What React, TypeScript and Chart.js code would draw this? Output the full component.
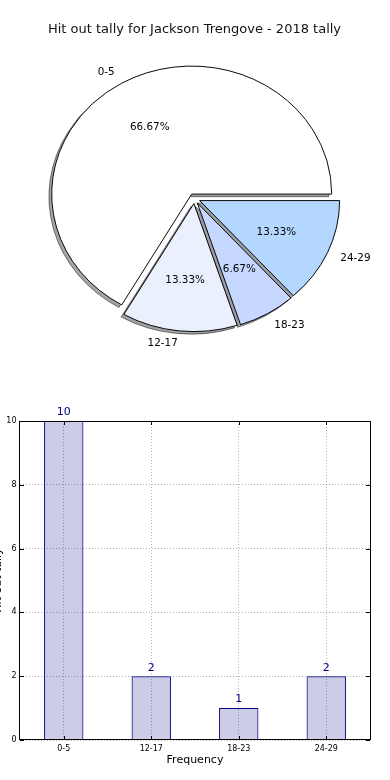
import React, { useEffect, useRef } from 'react';
import { Chart, registerables } from 'chart.js';

Chart.register(...registerables);

const TITLE = 'Hit out tally for Jackson Trengove - 2018 tally';
const categories = ['0-5', '12-17', '18-23', '24-29'];
const tallies = [10, 2, 1, 2];
const pieColors = ['#ffffff', '#eaf0fe', '#c6d8ff', '#b3d7ff'];
const X_TITLE = 'Frequency';
const Y_TITLE = 'Hit out tally';
const Y_MIN = 0;
const Y_MAX = 10;
const Y_STEP = 2;

const FONT = "'DejaVu Sans', sans-serif";
const EXPLODE = 0.04;
const SHADOW = 0.02;
const Y_SCALE = 128 / 140;
const NAVY = '#000080';
const GRID = 'rgba(0,0,0,0.3)';

// pie is drawn counter-clockwise from 3 o'clock (like matplotlib) -> reverse for Chart.js clockwise
const pieLabels = [...categories].reverse();
const pieValues = [...tallies].reverse();
const pieCols = [...pieColors].reverse();

const piePlugin = {
  id: 'mplPie',
  beforeDatasetsDraw(chart: any) {
    const ctx = chart.ctx as CanvasRenderingContext2D;
    const arcs = chart.getDatasetMeta(0).data as any[];
    if (!arcs.length) return false;
    const cy = arcs[0].y;
    const R = arcs[0].outerRadius;
    ctx.save();
    ctx.translate(0, cy);
    ctx.scale(1, Y_SCALE);
    ctx.translate(0, -cy);
    arcs.forEach((arc) => {
      const mid = (arc.startAngle + arc.endAngle) / 2;
      ctx.save();
      ctx.translate(EXPLODE * R * Math.cos(mid) - SHADOW * R, EXPLODE * R * Math.sin(mid) + SHADOW * R);
      ctx.globalAlpha = 0.5;
      (ctx as any).filter = 'brightness(0.3)';
      arc.draw(ctx);
      ctx.restore();
    });
    arcs.forEach((arc) => {
      const mid = (arc.startAngle + arc.endAngle) / 2;
      ctx.save();
      ctx.translate(EXPLODE * R * Math.cos(mid), EXPLODE * R * Math.sin(mid));
      arc.draw(ctx);
      ctx.restore();
    });
    ctx.restore();
    return false;
  },
  afterDraw(chart: any) {
    const ctx = chart.ctx as CanvasRenderingContext2D;
    const arcs = chart.getDatasetMeta(0).data as any[];
    const vals = chart.data.datasets[0].data as number[];
    const labels = chart.data.labels as string[];
    const total = vals.reduce((a, b) => a + b, 0);
    ctx.save();
    ctx.font = `10.4px ${FONT}`;
    ctx.fillStyle = '#000';
    ctx.textBaseline = 'middle';
    arcs.forEach((arc, i) => {
      const R = arc.outerRadius;
      const mid = (arc.startAngle + arc.endAngle) / 2;
      const c = Math.cos(mid);
      const s = Math.sin(mid);
      const ex = arc.x + EXPLODE * R * c;
      const ey = arc.y + EXPLODE * R * s * Y_SCALE;
      ctx.textAlign = c > 0 ? 'left' : 'right';
      ctx.fillText(labels[i], ex + 1.1 * R * c, ey + 1.1 * R * s * Y_SCALE);
      ctx.textAlign = 'center';
      const pct = ((vals[i] / total) * 100).toFixed(2) + '%';
      ctx.fillText(pct, ex + 0.6 * R * c, ey + 0.6 * R * s * Y_SCALE);
    });
    ctx.restore();
  },
};

const barPlugin = {
  id: 'mplBar',
  afterDraw(chart: any) {
    const ctx = chart.ctx as CanvasRenderingContext2D;
    const { left, right, top, bottom } = chart.chartArea;
    const xs = chart.scales.x;
    const ys = chart.scales.y;
    ctx.save();
    ctx.strokeStyle = '#000';
    ctx.lineWidth = 1;
    // inward ticks
    ctx.beginPath();
    ys.ticks.forEach((t: any) => {
      const py = Math.round(ys.getPixelForValue(t.value)) + 0.5;
      ctx.moveTo(left, py);
      ctx.lineTo(left + 4, py);
      ctx.moveTo(right, py);
      ctx.lineTo(right - 4, py);
    });
    categories.forEach((_, i) => {
      const px = Math.round(xs.getPixelForValue(i)) + 0.5;
      ctx.moveTo(px, bottom);
      ctx.lineTo(px, bottom - 4);
      ctx.moveTo(px, top);
      ctx.lineTo(px, top + 4);
    });
    ctx.stroke();
    // frame
    ctx.strokeRect(Math.round(left) - 0.5, Math.round(top) + 0.5, Math.round(right - left) + 1, Math.round(bottom - top) - 1);
    // value labels
    const bars = chart.getDatasetMeta(0).data as any[];
    const vals = chart.data.datasets[0].data as number[];
    ctx.fillStyle = NAVY;
    ctx.font = `11px ${FONT}`;
    ctx.textAlign = 'center';
    ctx.textBaseline = 'middle';
    bars.forEach((b, i) => {
      ctx.fillText(String(vals[i]), b.x, b.y - 8.5);
    });
    ctx.restore();
  },
};

export default function App() {
  const pieRef = useRef<HTMLCanvasElement>(null);
  const barRef = useRef<HTMLCanvasElement>(null);

  useEffect(() => {
    Chart.defaults.font.family = FONT;
    Chart.defaults.color = '#000';
    const pie = new Chart(pieRef.current as HTMLCanvasElement, {
      type: 'pie',
      data: {
        labels: pieLabels,
        datasets: [
          {
            data: pieValues,
            backgroundColor: pieCols,
            borderColor: '#000',
            borderWidth: 1,
            borderJoinStyle: 'miter',
          } as any,
        ],
      },
      options: {
        responsive: false,
        animation: false,
        events: [],
        rotation: 90,
        radius: 140,
        layout: { padding: { left: 0, right: 1, top: 0, bottom: 30.6 } },
        plugins: {
          legend: { display: false },
          tooltip: { enabled: false },
          title: {
            display: true,
            text: TITLE,
            color: '#111',
            font: { family: FONT, size: 13, weight: 'normal' },
            padding: { top: 22, bottom: 0 },
          },
        },
      } as any,
      plugins: [piePlugin as any],
    });

    const bar = new Chart(barRef.current as HTMLCanvasElement, {
      type: 'bar',
      data: {
        labels: categories,
        datasets: [
          {
            data: tallies,
            backgroundColor: 'rgba(0,0,128,0.2)',
            borderColor: NAVY,
            borderWidth: 1,
            categoryPercentage: 1,
            barPercentage: 0.45,
          },
        ],
      },
      options: {
        responsive: false,
        animation: false,
        events: [],
        layout: { padding: { left: 0, right: 20, top: 31, bottom: 0 } },
        plugins: { legend: { display: false }, tooltip: { enabled: false } },
        scales: {
          x: {
            offset: true,
            grid: { offset: false, drawTicks: false, color: GRID, lineWidth: 1 },
            border: { display: false, dash: [1, 2] },
            ticks: { font: { size: 8 }, color: '#000', padding: 4, maxRotation: 0, autoSkip: false },
            title: { display: true, text: X_TITLE, color: '#000', font: { size: 11 }, padding: { top: 0, bottom: 13.4 } },
            afterFit: (s: any) => {
              s.height = 40;
            },
          },
          y: {
            min: Y_MIN,
            max: Y_MAX,
            grid: { drawTicks: false, color: GRID, lineWidth: 1 },
            border: { display: false, dash: [1, 2] },
            ticks: { stepSize: Y_STEP, font: { size: 8 }, color: '#000', padding: 3.5 },
            title: { display: true, text: Y_TITLE, color: '#000', font: { size: 11 }, padding: { top: 1.4, bottom: 0 } },
            afterFit: (s: any) => {
              s.width = 30;
            },
          },
        },
      } as any,
      plugins: [barPlugin as any],
    });

    return () => {
      pie.destroy();
      bar.destroy();
    };
  }, []);

  return (
    <div style={{ position: 'absolute', left: 0, top: 0, width: 390, height: 780, overflow: 'hidden', background: '#fff' }}>
      <canvas ref={pieRef} width={390} height={390} style={{ position: 'absolute', left: 0, top: 0, width: 390, height: 390 }} />
      <canvas ref={barRef} width={400} height={390} style={{ position: 'absolute', left: -10, top: 390, width: 400, height: 390 }} />
    </div>
  );
}
